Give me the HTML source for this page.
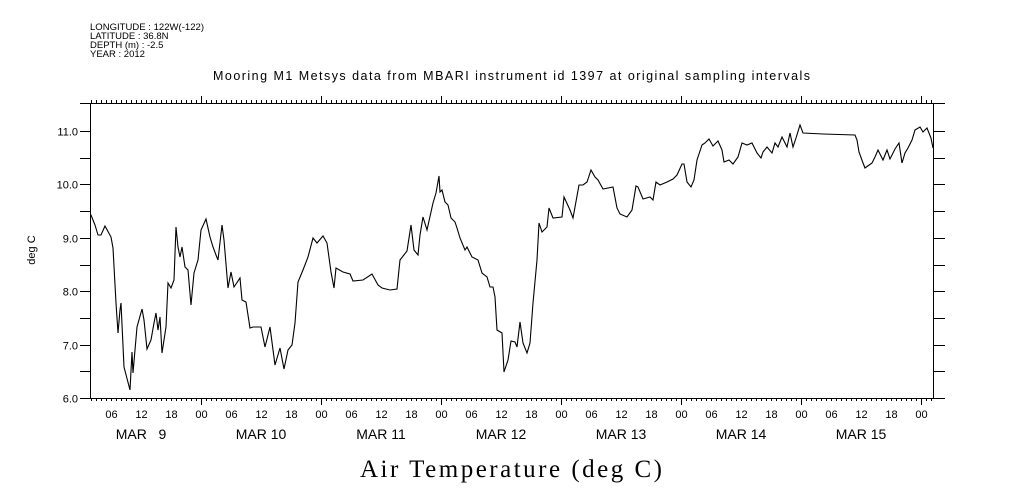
<!DOCTYPE html>
<html><head><meta charset="utf-8"><style>
body{margin:0;background:#fff}
svg{display:block}
text{font-family:"Liberation Sans",sans-serif;fill:#000}
</style></head><body>
<svg width="1009" height="504" viewBox="0 0 1009 504">
<g font-size="9.5">
<text x="90" y="30" textLength="114">LONGITUDE : 122W(-122)</text>
<text x="90" y="39">LATITUDE : 36.8N</text>
<text x="90" y="48">DEPTH (m) : -2.5</text>
<text x="90" y="57">YEAR : 2012</text>
</g>
<text x="213" y="80" font-size="12.5" textLength="597" lengthAdjust="spacing">Mooring M1 Metsys data from MBARI instrument id 1397 at original sampling intervals</text>
<g stroke="#000" stroke-width="1" fill="none" shape-rendering="crispEdges">
<line x1="80" y1="103.5" x2="945" y2="103.5"/>
<line x1="80" y1="398.5" x2="945" y2="398.5"/>
<line x1="90.5" y1="103" x2="90.5" y2="398"/>
<line x1="933.5" y1="103" x2="933.5" y2="398"/>
</g>
<g id="ticks" stroke="#000" stroke-width="1" shape-rendering="crispEdges"></g>
<g id="ylab" font-size="11" text-anchor="end"></g>
<g id="xlab" font-size="11" text-anchor="middle"></g>
<text x="35" y="250" font-size="11" text-anchor="middle" transform="rotate(-90 35 250)">deg C</text>
<text x="360" y="477" font-size="25" textLength="302" lengthAdjust="spacing" style="font-family:'Liberation Serif',serif">Air Temperature (deg C)</text>
<polyline fill="none" stroke="#000" stroke-width="1.1" points="90,215 91,215 95,225 98,235 101,235 105,226 111,237 113,248 116,303 118,333 120,310 121,303 124,367 130,390 132,352 133,373 137,327 142,309 144,320 147,349 151,340 154,323 156,313 158,330 160,317 162,353 166,327 168,283 171,288 174,280 176,227 178,247 180,257 182,247 185,267 188,270 191,305 194,273 198,260 201,230 206,219 210,237 213,247 216,255 218,260 222,225 224,240 228,288 231,272 234,287 240,278 242,300 246,302 250,328 253,327 261,327 265,347 270,327 275,365 280,348 284,369 288,350 292,345 295,323 298,282 303,270 308,257 313,238 317,243 323,236 327,243 331,272 334,288 336,268 343,272 350,274 353,281 363,280 372,274 378,285 382,288 390,290 397,289 400,260 407,251 411,225 414,250 418,255 420,235 423,217 427,230 433,203 436,193 439,176 440,192 442,190 445,202 448,205 451,218 455,222 457,228 460,238 465,250 467,247 472,257 478,260 482,273 487,277 490,287 493,287 495,297 497,330 502,333 504,372 508,360 511,341 515,342 517,347 520,322 523,343 527,353 530,343 533,303 537,260 539,223 542,232 547,227 549,208 553,218 562,217 564,197 570,210 573,218 579,185 583,185 587,182 591,170 595,177 598,180 603,189 613,187 617,208 620,214 627,217 632,210 636,186 638,187 643,199 650,197 653,200 656,182 660,185 667,182 673,179 677,175 682,164 684,164 687,182 691,187 694,180 697,160 702,145 705,143 709,139 713,146 718,141 722,150 724,162 729,160 733,164 738,157 742,143 747,145 752,143 757,153 761,158 763,152 767,147 772,153 775,143 778,147 782,137 787,147 790,133 793,147 796,138 800,125 803,133 823,134 855,135 857,140 859,152 863,163 865,168 872,163 875,157 878,150 883,160 887,150 890,159 895,149 899,143 902,163 905,153 908,148 912,140 915,130 920,127 923,132 927,128 931,138 933,148"/>
</svg>
<script>
var ns="http://www.w3.org/2000/svg";
var t=document.getElementById("ticks"),yl=document.getElementById("ylab"),xl=document.getElementById("xlab");
function L(x1,y1,x2,y2){var l=document.createElementNS(ns,"line");l.setAttribute("x1",x1);l.setAttribute("y1",y1);l.setAttribute("x2",x2);l.setAttribute("y2",y2);t.appendChild(l);}
function T(g,x,y,s){var e=document.createElementNS(ns,"text");e.setAttribute("x",x);e.setAttribute("y",y);e.textContent=s;g.appendChild(e);}
for(var h=2;h<=170;h++){var x=81+h*5+0.5;if(x<90||x>934)continue;var maj=(h%24==0);var len=maj?7:3;
L(x,103,x,103-len);L(x,398,x,398+len);
if(h%6==0){var hh=h%24;T(xl,x,418,hh<10?"0"+hh:""+hh);}}
for(var i=0;i<=10;i++){var v=6+i*0.5;var y=Math.round(398-i*26.7)+0.5;L(80,y,90,y);L(933,y,945,y);
if(i%2==0)T(yl,78,y+4,v.toFixed(1));}
var days=["MAR   9","MAR 10","MAR 11","MAR 12","MAR 13","MAR 14","MAR 15"];
days.forEach(function(d,i){var e=document.createElementNS(ns,"text");e.setAttribute("x",141+i*120);e.setAttribute("y",439);e.setAttribute("font-size","14");e.setAttribute("text-anchor","middle");e.setAttribute("style","white-space:pre");e.textContent=d;xl.appendChild(e);});
</script>
</body></html>
